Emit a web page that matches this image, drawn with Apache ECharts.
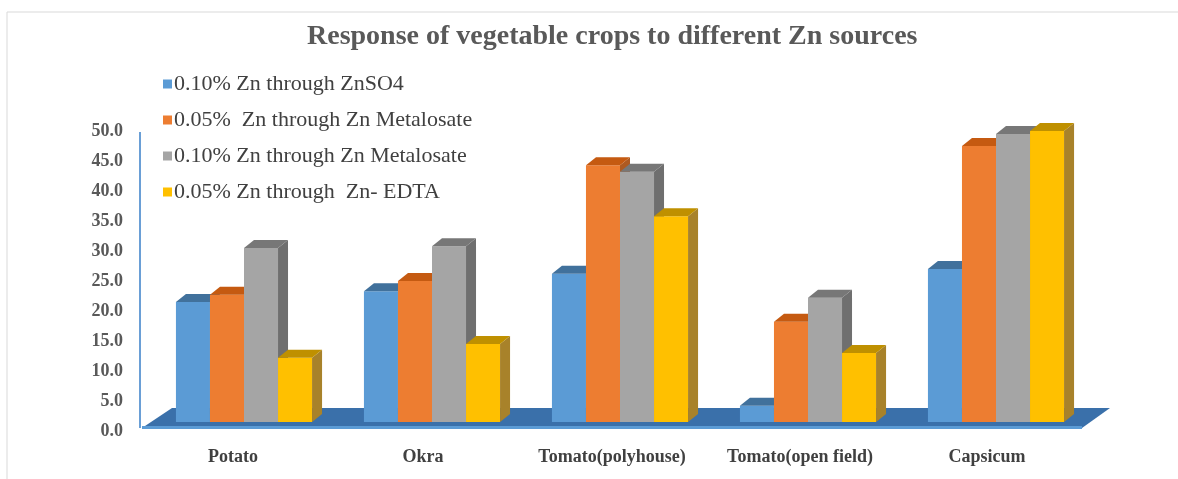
<!DOCTYPE html>
<html>
<head>
<meta charset="utf-8">
<script src="https://cdn.jsdelivr.net/npm/echarts@6/dist/echarts.min.js"></script>
<style>
    html, body { margin: 0; padding: 0; background: #fff; }
    #main { width: 1178px; height: 479px; }
</style>
</head>
<body>
<div id="main"></div>
<script>
var categories = ['Potato', 'Okra', 'Tomato(polyhouse)', 'Tomato(open field)', 'Capsicum'];
var seriesNames = ['0.10% Zn through ZnSO4', '0.05%  Zn through Zn Metalosate', '0.10% Zn through Zn Metalosate', '0.05% Zn through  Zn- EDTA'];
var znso4 = [20.0, 21.8, 24.7, 2.7, 25.5];
var metalosate005 = [21.2, 23.5, 42.8, 16.7, 46.0];
var metalosate010 = [29.0, 29.3, 41.7, 20.7, 48.0];
var edta = [10.7, 13.0, 34.3, 11.5, 48.5];
var yTicks = [0, 50, 5];

// colours: front, top, side
var frontColors = ['#5B9BD5', '#ED7D31', '#A5A5A5', '#FFC000'];
var topColors = ['#41719C', '#C55A11', '#777777', '#BF9000'];
var sideColors = ['#41719C', '#AE5A21', '#6F6F6F', '#A8822A'];
// label shift to the left for each category (the source has them a bit off-centre)
var labelShift = [11, 9, 8, 8, 9];

var myChart = echarts.init(document.getElementById('main'));

var DX = 10, DY = -8;

function makeBar(sIdx) {
    return function (params, api) {
        var cat = api.value(0), val = api.value(1);
        var base = api.coord([cat, 0]);
        var top = api.coord([cat, val]);
        var band = api.size([1, 0])[0];
        var w = band * 0.181;
        var x = base[0] - 2 * w + sIdx * w;
        var t = top[1], b = base[1];
        return {
            type: 'group',
            children: [
                { type: 'rect', shape: { x: x, y: t, width: w, height: b - t },
                  style: { fill: frontColors[sIdx] } },
                { type: 'polygon', shape: { points: [[x + w, t], [x + w + DX, t + DY], [x + w + DX, b + DY], [x + w, b]] },
                  style: { fill: sideColors[sIdx] } },
                { type: 'polygon', shape: { points: [[x, t], [x + DX, t + DY], [x + w + DX, t + DY], [x + w, t]] },
                  style: { fill: topColors[sIdx] } }
            ]
        };
    };
}

function renderFloor(params, api) {
    var cs = params.coordSys;
    var L = cs.x, R = cs.x + cs.width, y0 = cs.y + cs.height;
    return {
        type: 'group',
        children: [
            { type: 'polygon', shape: { points: [[L - 8, y0 + 6], [R - 8, y0 + 6], [R + 20, y0 - 14], [L + 22, y0 - 14]] },
              style: { fill: '#3A70AA' } },
            { type: 'rect', shape: { x: L - 8, y: y0 + 4, width: R - L, height: 3 },
              style: { fill: '#5B9BD5' } },
            { type: 'line', shape: { x1: L - 10, y1: cs.y + 10, x2: L - 10, y2: y0 + 6 },
              style: { stroke: '#6A9FD6', lineWidth: 2 } }
        ]
    };
}

function toPairs(arr) {
    return arr.map(function (v, i) { return [i, v]; });
}

var values = [znso4, metalosate005, metalosate010, edta];
var series = [{
    type: 'custom',
    name: 'floor',
    renderItem: renderFloor,
    data: [[0, 0]],
    silent: true
}];
values.forEach(function (arr, i) {
    series.push({
        type: 'custom',
        name: seriesNames[i],
        renderItem: makeBar(i),
        itemStyle: { color: frontColors[i] },
        encode: { x: 0, y: 1 },
        data: toPairs(arr)
    });
});

var rich = {};
labelShift.forEach(function (s, i) {
    rich['c' + i] = {
        fontFamily: 'Liberation Serif', fontWeight: 'bold', fontSize: 18, color: '#404040',
        padding: [0, s * 2, 0, 0]
    };
});

option = {
    backgroundColor: '#fff',
    animation: false,
    title: {
        text: 'Response of vegetable crops to different Zn sources',
        left: 302,
        top: 18,
        textStyle: { fontFamily: 'Liberation Serif', fontWeight: 'bold', fontSize: 28, color: '#595959' }
    },
    legend: {
        data: seriesNames,
        orient: 'vertical',
        left: 158,
        top: 68,
        itemWidth: 9,
        itemHeight: 9,
        itemGap: 14,
        icon: 'rect',
        textStyle: { fontFamily: 'Liberation Serif', fontSize: 22, color: '#404040', padding: [0, 0, 0, -3] }
    },
    graphic: [{
        type: 'rect',
        shape: { x: 7, y: 12, width: 1200, height: 500 },
        style: { fill: 'none', stroke: '#D9D9D9', lineWidth: 1 },
        silent: true
    }],
    grid: { left: 150, right: 88, top: 122, bottom: 57 },
    xAxis: {
        type: 'category',
        data: categories,
        axisLine: { show: false },
        axisTick: { show: false },
        axisLabel: {
            margin: 26,
            formatter: function (v, i) { return '{c' + i + '|' + v + '}'; },
            rich: rich
        }
    },
    yAxis: {
        type: 'value',
        min: yTicks[0],
        max: yTicks[1],
        interval: yTicks[2],
        axisLine: { show: false },
        axisTick: { show: false },
        splitLine: { show: false },
        axisLabel: {
            margin: 27,
            fontFamily: 'Liberation Serif',
            fontWeight: 'bold',
            fontSize: 18,
            color: '#595959',
            verticalAlign: 'top',
            formatter: function (v) { return v.toFixed(1); }
        }
    },
    series: series
};
myChart.setOption(option);
</script>
</body>
</html>
